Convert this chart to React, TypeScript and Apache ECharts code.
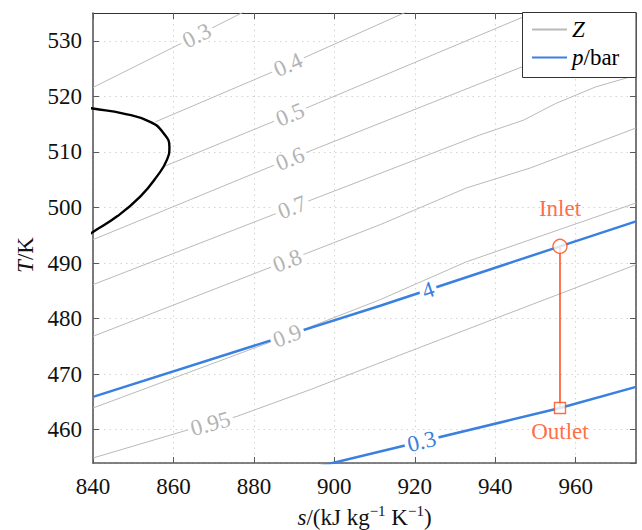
import React, { useEffect, useRef } from 'react';
import * as echarts from 'echarts';

// ---------- data ----------
const S_MIN = 840;
const S_MAX = 975;
const T_MIN = 454;
const T_MAX = 535;
const X_STEP = 20;
const Y_STEP = 10;

// Compressibility-factor contours Z, as [s, T]
const Z_LEVELS = ['0.3', '0.4', '0.5', '0.6', '0.7', '0.8', '0.9', '0.95'];
const Z_03: [number, number][] = [[840, 521.6], [866, 531.0], [880, 536.1]];
const Z_04: [number, number][] = [[855.5, 515.4], [884, 524.2], [917, 534.9], [920, 535.8]];
const Z_05: [number, number][] = [[857.4, 507.3], [892.7, 517.8], [947, 534.3], [950, 535.2]];
const Z_06: [number, number][] = [[840, 494.2], [884, 507.3], [947, 525.4], [975, 533.6]];
const Z_07: [number, number][] = [[840, 486.1], [893, 501.0], [936, 513.0], [947, 515.7], [955, 518.7], [965, 521.7], [975, 523.8]];
const Z_08: [number, number][] = [[840, 476.8], [896.5, 492.7], [911.4, 496.9], [932.8, 503.5], [948.7, 507.1], [975, 514.3]];
const Z_09: [number, number][] = [[840, 463.9], [888.3, 476.9], [911.4, 483.4], [932.8, 490.2], [975, 500.8]];
const Z_095: [number, number][] = [[840, 454.9], [862.4, 459.7], [875.8, 462.4], [894, 467.2], [901.5, 469.3], [926.3, 476.2], [975, 489.7]];
const Z_CONTOURS = [Z_03, Z_04, Z_05, Z_06, Z_07, Z_08, Z_09, Z_095];
const Z_LABEL_S = [865.8, 888.5, 889.0, 889.0, 889.5, 888.3, 888.3, 869.2];

// Isobars p/bar
const P_LEVELS = ['4', '0.3'];
const P_4: [number, number][] = [[840, 465.9], [911.4, 482.3], [956.1, 493.0], [975, 497.5]];
const P_03: [number, number][] = [[895, 453.2], [956.1, 463.9], [975, 467.7]];
const P_CONTOURS = [P_4, P_03];
const P_LABEL_S = [923.3, 921.7];

// Saturation dome
const DOME: [number, number][] = [
  [835, 518.4], [840, 517.8], [847.6, 516.9], [854.2, 515.4], [857.5, 513.4], [859, 510.9],
  [858.4, 508.6], [855.9, 505.6], [851.8, 502.0], [846, 498.4], [840, 495.6], [835, 493.2],
];

// Process states
const STATE_NAMES = ['Inlet', 'Outlet'];
const STATE_S = [956.1, 956.1];
const STATE_T = [493.0, 463.9];

// ---------- styling ----------
const SERIF = 'Liberation Serif';
const GRAY = '#b9b9b9';
const GRAY_TEXT = '#b3b3b3';
const BLUE = '#3a80e0';
const ORANGE = '#ff4814';
const AXIS_COLOR = '#5a5a5a';
const TEXT = '#111';
const FS = 23;

const richN = (color: string) => ({ n: { fontSize: FS, fontFamily: SERIF, color } });

function interpT(c: [number, number][], s: number): number {
  for (let i = 0; i < c.length - 1; i++) {
    const [s0, t0] = c[i];
    const [s1, t1] = c[i + 1];
    if (s >= s0 && s <= s1) return t0 + ((s - s0) / (s1 - s0)) * (t1 - t0);
  }
  return c[c.length - 1][1];
}

const LABEL_TEXT = [...Z_LEVELS, ...P_LEVELS];
const LABEL_COLOR = [...Z_LEVELS.map(() => GRAY_TEXT), ...P_LEVELS.map(() => BLUE)];
const LABEL_DATA = [
  ...Z_LABEL_S.map((s, i) => [s, Z_CONTOURS[i]]),
  ...P_LABEL_S.map((s, i) => [s, P_CONTOURS[i]]),
].map(([s, c]: any) => [s, interpT(c, s), s - 3, interpT(c, s - 3), s + 3, interpT(c, s + 3)]);

export default function App() {
  const ref = useRef<HTMLDivElement>(null);

  useEffect(() => {
    document.body.style.margin = '0';
    if (!ref.current) return;
    const chart = echarts.init(ref.current, null, { renderer: 'svg' });

    const tickLabel = {
      fontSize: FS,
      fontFamily: SERIF,
      color: TEXT,
      formatter: (v: number) => `{n|${v}}`,
      rich: richN(TEXT),
    };
    const axisLine = { show: true, lineStyle: { color: AXIS_COLOR, width: 1.6 } };
    const axisTick = { show: true, inside: true, length: 6, lineStyle: { color: AXIS_COLOR, width: 1 } };
    const splitLine = { show: true, lineStyle: { color: '#d4d4d4', width: 1, type: [1.5, 4] as any } };

    const lineSeries = (name: string, data: any, color: string, width: number, z: number, smooth = false) => ({
      type: 'line',
      name,
      data,
      symbol: 'none',
      showSymbol: false,
      smooth,
      clip: true,
      silent: true,
      z,
      itemStyle: { color },
      lineStyle: { color, width },
      emphasis: { disabled: true },
    });

    const option: any = {
      animation: false,
      backgroundColor: '#fff',
      textStyle: { fontFamily: SERIF, fontSize: FS },
      grid: { left: 93, right: 6, top: 13, bottom: 67, containLabel: false, outerBoundsMode: 'none' },
      xAxis: [
        {
          type: 'value',
          min: S_MIN,
          max: S_MAX,
          splitNumber: 7,
          minInterval: X_STEP,
          maxInterval: X_STEP,
          position: 'bottom',
          axisLine,
          axisTick,
          splitLine,
          axisLabel: { ...tickLabel, margin: 12, showMaxLabel: false, showMinLabel: true },
          name: '{i|s}/(kJ kg{sup|\u22121} K{sup|\u22121})',
          nameLocation: 'middle',
          nameGap: 40,
          nameTextStyle: {
            fontSize: FS,
            fontFamily: SERIF,
            color: TEXT,
            lineHeight: 28,
            rich: {
              i: { fontStyle: 'italic', fontSize: FS, fontFamily: SERIF, color: TEXT, lineHeight: 28 },
              sup: { fontSize: 15, fontFamily: SERIF, color: TEXT, verticalAlign: 'top', lineHeight: 15 },
            },
          },
        },
        {
          type: 'value',
          min: S_MIN,
          max: S_MAX,
          splitNumber: 7,
          minInterval: X_STEP,
          maxInterval: X_STEP,
          position: 'top',
          axisLine: { show: true, lineStyle: { color: '#333', width: 1 } },
          axisTick,
          splitLine: { show: false },
          axisLabel: { show: false },
        },
      ],
      yAxis: [
        {
          type: 'value',
          min: T_MIN,
          max: T_MAX,
          splitNumber: 8,
          minInterval: Y_STEP,
          maxInterval: Y_STEP,
          position: 'left',
          axisLine,
          axisTick,
          splitLine,
          axisLabel: { ...tickLabel, margin: 11, showMinLabel: false, showMaxLabel: false },
        },
        {
          type: 'value',
          min: T_MIN,
          max: T_MAX,
          splitNumber: 8,
          minInterval: Y_STEP,
          maxInterval: Y_STEP,
          position: 'right',
          axisLine,
          axisTick,
          splitLine: { show: false },
          axisLabel: { show: false },
        },
      ],
      legend: {
        data: ['Z', 'p/bar'],
        orient: 'vertical',
        left: 531,
        top: 18,
        padding: 0,
        itemGap: 5,
        itemWidth: 35,
        itemHeight: 14,
        z: 20,
        selectedMode: false,
        itemStyle: { opacity: 0 },
        formatter: (n: string) => (n === 'Z' ? '{i|Z}' : '{i|p}{n|/bar}'),
        textStyle: {
          fontSize: FS,
          fontFamily: SERIF,
          color: '#000',
          rich: {
            i: { fontStyle: 'italic', fontSize: FS, fontFamily: SERIF, color: '#000' },
            n: { fontSize: FS, fontFamily: SERIF, color: '#000' },
          },
        },
      },
      graphic: [
        {
          type: 'rect',
          z: 10,
          shape: { x: 522.5, y: 12.5, width: 113.5, height: 65 },
          style: { fill: '#fff', stroke: '#333', lineWidth: 1 },
        },
        {
          type: 'text',
          z: 10,
          x: 25,
          y: 255,
          rotation: Math.PI / 2,
          style: {
            text: '{i|T}{n|/K}',
            align: 'center',
            verticalAlign: 'middle',
            rich: {
              i: { fontStyle: 'italic', fontSize: FS, fontFamily: SERIF, fill: TEXT, color: TEXT },
              n: { fontSize: FS, fontFamily: SERIF, fill: TEXT, color: TEXT },
            },
          },
        },
      ],
      series: [
        ...Z_CONTOURS.map((c) => lineSeries('Z', c, GRAY, 1, 2)),
        lineSeries('dome', DOME, '#000', 2.4, 3, true),
        ...P_CONTOURS.map((c) => lineSeries('p/bar', c, BLUE, 2.5, 3)),
        lineSeries(
          'process',
          STATE_S.map((s, i) => [s, STATE_T[i]]),
          ORANGE,
          1.5,
          4
        ),
        {
          type: 'custom',
          name: 'contour labels',
          silent: true,
          z: 5,
          data: LABEL_DATA,
          encode: { x: 0, y: 1 },
          renderItem: (params: any, api: any) => {
            const i = params.dataIndex;
            const p = api.coord([api.value(0), api.value(1)]);
            const a = api.coord([api.value(2), api.value(3)]);
            const b = api.coord([api.value(4), api.value(5)]);
            const rot = Math.atan2(a[1] - b[1], b[0] - a[0]);
            return {
              type: 'text',
              x: p[0],
              y: p[1],
              rotation: rot,
              style: {
                text: `{n|${LABEL_TEXT[i]}}`,
                rich: { n: { fontSize: FS, fontFamily: SERIF, fill: LABEL_COLOR[i], color: LABEL_COLOR[i], lineHeight: 18 } },
                fill: LABEL_COLOR[i],
                align: 'center',
                verticalAlign: 'middle',
                backgroundColor: '#fff',
                padding: [0, 3],
              },
            };
          },
        },
        {
          type: 'scatter',
          name: 'states',
          silent: true,
          z: 6,
          data: STATE_S.map((s, i) => ({
            value: [s, STATE_T[i]],
            symbol: i === 0 ? 'circle' : 'rect',
            symbolSize: i === 0 ? 14 : 11,
            label: {
              show: true,
              formatter: `{n|${STATE_NAMES[i]}}`,
              rich: richN(ORANGE),
              position: i === 0 ? 'top' : 'bottom',
              distance: i === 0 ? 19 : 6,
              color: ORANGE,
              fontSize: FS,
              fontFamily: SERIF,
            },
          })),
          itemStyle: { color: '#fff', borderColor: ORANGE, borderWidth: 1.4 },
        },
      ],
    };

    chart.setOption(option);
    return () => chart.dispose();
  }, []);

  return <div ref={ref} style={{ width: 642, height: 530 }} />;
}
